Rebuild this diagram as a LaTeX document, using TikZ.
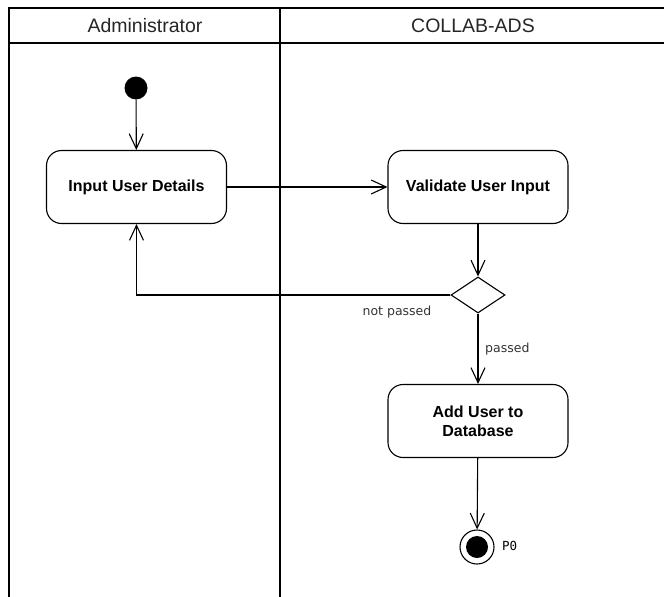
\documentclass[tikz,border=0pt]{standalone}
\usepackage{fontspec}
\setmainfont{Liberation Sans}
\newfontfamily\labelfont{DejaVu Sans}
\newfontfamily\monofont{DejaVu Sans Mono}
\usetikzlibrary{arrows.meta,shapes.geometric}
\begin{document}
\begin{tikzpicture}[x=1pt,y=-1pt,
  act/.style={draw,rounded corners=15pt,minimum width=180pt,minimum height=73pt,font=\bfseries\fontsize{16}{19}\selectfont,align=center,line width=1.1pt},
  flow/.style={draw,line width=1.1pt,-{Straight Barb[length=15pt,width=14pt,line width=1.1pt]}},
  lane/.style={line width=1.2pt},
  lbl/.style={font=\labelfont\fontsize{12.5}{14}\selectfont,text=black!80}]
\useasboundingbox (0,0) rectangle (664,597);
% swimlanes
\draw[lane] (9,597) -- (9,8) -- (664,8);
\draw[lane] (9,43) -- (664,43);
\draw[lane] (280,8) -- (280,597);
\node[font=\fontsize{19.5}{22}\selectfont,text=black!85] (h1) at (145,26) {Administrator};
\node[font=\fontsize{19.5}{22}\selectfont,text=black!85] (h2) at (473,26) {COLLAB-ADS};
% nodes
\node[circle,fill=black,minimum size=23pt,inner sep=0pt] (start) at (136,88) {};
\node[act] (input) at (136.5,187) {Input User Details};
\node[act] (validate) at (478,187) {Validate User Input};
\node[diamond,draw,line width=1.1pt,minimum width=54pt,minimum height=36pt,inner sep=0pt] (dec) at (478,295) {};
\node[act] (add) at (478,421) {Add User to\\Database};
\node[circle,draw,line width=1.1pt,minimum size=34pt,inner sep=0pt] (end) at (477,547) {};
\node[circle,fill=black,minimum size=22pt,inner sep=0pt] (endin) at (477,547) {};
\node[font=\monofont\fontsize{12.5}{14}\selectfont,anchor=west,inner sep=0pt] (p0) at (502,546) {P0};
% connectors
\draw[flow] (start) -- (input);
\draw[flow] (input) -- (validate);
\draw[flow] (validate) -- (dec);
\draw[flow] (dec.west) -| (input.south);
\draw[flow] (dec.south) -- (add.north);
\draw[flow] (add) -- (end);
\node[lbl] (np) at (397,312) {not passed};
\node[lbl,anchor=west,inner sep=0pt] (ps) at (485,349) {passed};
\end{tikzpicture}
\end{document}
